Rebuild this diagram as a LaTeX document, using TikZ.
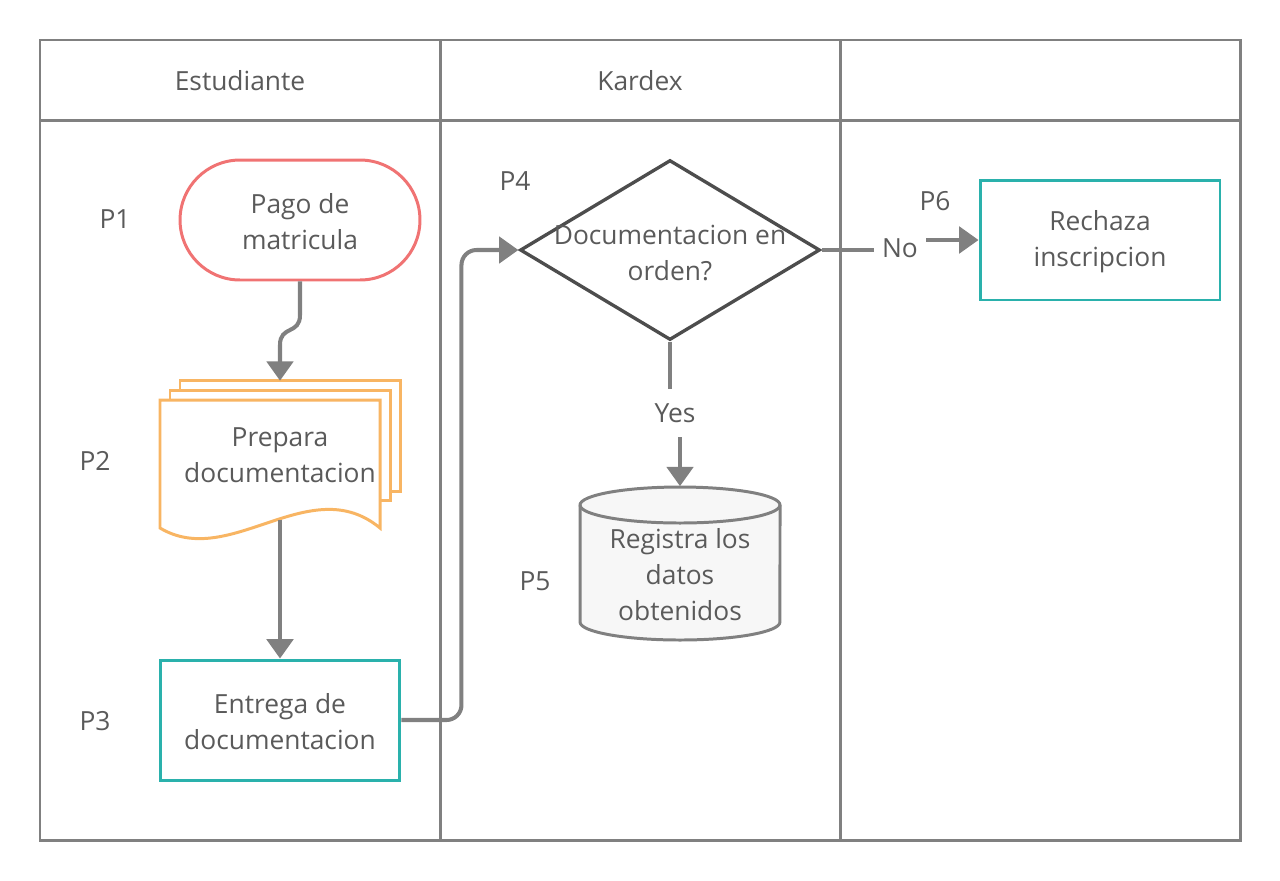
\documentclass[tikz,border=0pt]{standalone}
\usepackage{fontspec}
\setmainfont{Open Sans}
\usetikzlibrary{arrows.meta, shapes.geometric}

\definecolor{lanegray}{HTML}{808080}
\definecolor{txtgray}{HTML}{5A5A5A}
\definecolor{termred}{HTML}{F07373}
\definecolor{docorange}{HTML}{F8B563}
\definecolor{procteal}{HTML}{2AB1AC}
\definecolor{decgray}{HTML}{4D4D4D}
\definecolor{dbfill}{HTML}{F7F7F7}

\begin{document}
\begin{tikzpicture}[x=0.02cm, y=-0.02cm, >={Triangle[length=11pt, width=15pt]},
  every node/.style={font=\fontsize{15}{20.5}\selectfont, text=txtgray, align=center},
  lane/.style={draw=lanegray, line width=1.7pt},
  terminal/.style={draw=termred, line width=1.7pt, rectangle, rounded corners=1.2cm, minimum width=4.8cm, minimum height=2.4cm},
  process/.style={draw=procteal, line width=1.7pt, rectangle, minimum width=4.8cm, minimum height=2.4cm},
  docline/.style={draw=docorange, line width=1.7pt},
  docbox/.style={rectangle, minimum width=4.8cm, minimum height=2.96cm},
  decision/.style={draw=decgray, line width=1.9pt, diamond, minimum width=6cm, minimum height=3.6cm, inner sep=0pt},
  dbline/.style={draw=lanegray, line width=1.7pt},
  database/.style={rectangle, minimum width=4cm, minimum height=3.06cm},
  conn/.style={draw=lanegray, line width=2.3pt},
  flowlabel/.style={inner sep=0pt}]

  \useasboundingbox (0,0) rectangle (1280,880);

  \draw[lane] (40,40) rectangle (1240,840);
  \draw[lane] (40,120) -- (1240,120);
  \draw[lane] (440,40) -- (440,840);
  \draw[lane] (840,40) -- (840,840);
  \node (hestudiante) at (240,81) {Estudiante};
  \node (hkardex) at (640,81) {Kardex};

  \draw[docline] (390,491) -- (400,491) -- (400,380) -- (180,380) -- (180,390);
  \draw[docline] (380,500) -- (390,500) -- (390,390) -- (170,390) -- (170,400);
  \draw[docline, fill=white] (160,400) -- (380,400) -- (380,528) .. controls (310,470) and (230,570) .. (160,528) -- cycle;

  \draw[dbline, fill=dbfill] (580,505) -- (580,622) arc[start angle=180, end angle=360, x radius=2cm, y radius=0.36cm]
    -- (780,505) arc[start angle=0, end angle=180, x radius=2cm, y radius=0.36cm] -- cycle;
  \draw[dbline] (580,505) arc[start angle=180, end angle=360, x radius=2cm, y radius=0.36cm];

  \node [terminal] (pago) at (300,220) {};
  \node (pagotxt) at (300,222) {Pago de\\matricula};
  \node [docbox] (prepara) at (280,455) {Prepara\\documentacion};
  \node [process] (entrega) at (280,720) {};
  \node (entregatxt) at (280,722) {Entrega de\\documentacion};
  \node [decision] (check) at (670,250) {};
  \node (checktxt) at (670,253) {Documentacion en\\orden?};
  \node [database] (registra) at (680,563) {};
  \node (registratxt) at (680,575) {Registra los\\datos\\obtenidos};
  \node [process] (rechaza) at (1100,240) {};
  \node (rechazatxt) at (1100,242) {Rechaza\\inscripcion};

  \node (p1) at (115,219) {P1};
  \node (p2) at (95,461) {P2};
  \node (p3) at (95,721) {P3};
  \node (p4) at (515,181) {P4};
  \node (p5) at (535,581) {P5};
  \node (p6) at (935,201) {P6};

  \node [flowlabel, minimum height=0.96cm] (yes) at (675,413) {Yes};
  \node [flowlabel, minimum width=1.04cm] (no) at (900,248) {No};

  \coordinate (bendtop) at (300,315);
  \coordinate (bendbot) at (280,345);
  \coordinate (prepout) at (280,520);

  \draw [conn, ->] (pago.south) -- (bendtop) .. controls (300,335) and (280,325) .. (bendbot) -- (prepara.north);
  \draw [conn, ->] (prepout) -- (entrega.north);
  \draw [conn, ->, rounded corners=0.3cm] (entrega.east) -- ++(60,0) |- (check.west);
  \draw [conn] (check.south) -- (check.south |- yes.north);
  \draw [conn, ->] (yes.south -| registra.north) -- (registra.north);
  \draw [conn] (check.east) -- (check.east -| no.west);
  \draw [conn, ->] (no.east |- rechaza.west) -- (rechaza.west);
\end{tikzpicture}
\end{document}
